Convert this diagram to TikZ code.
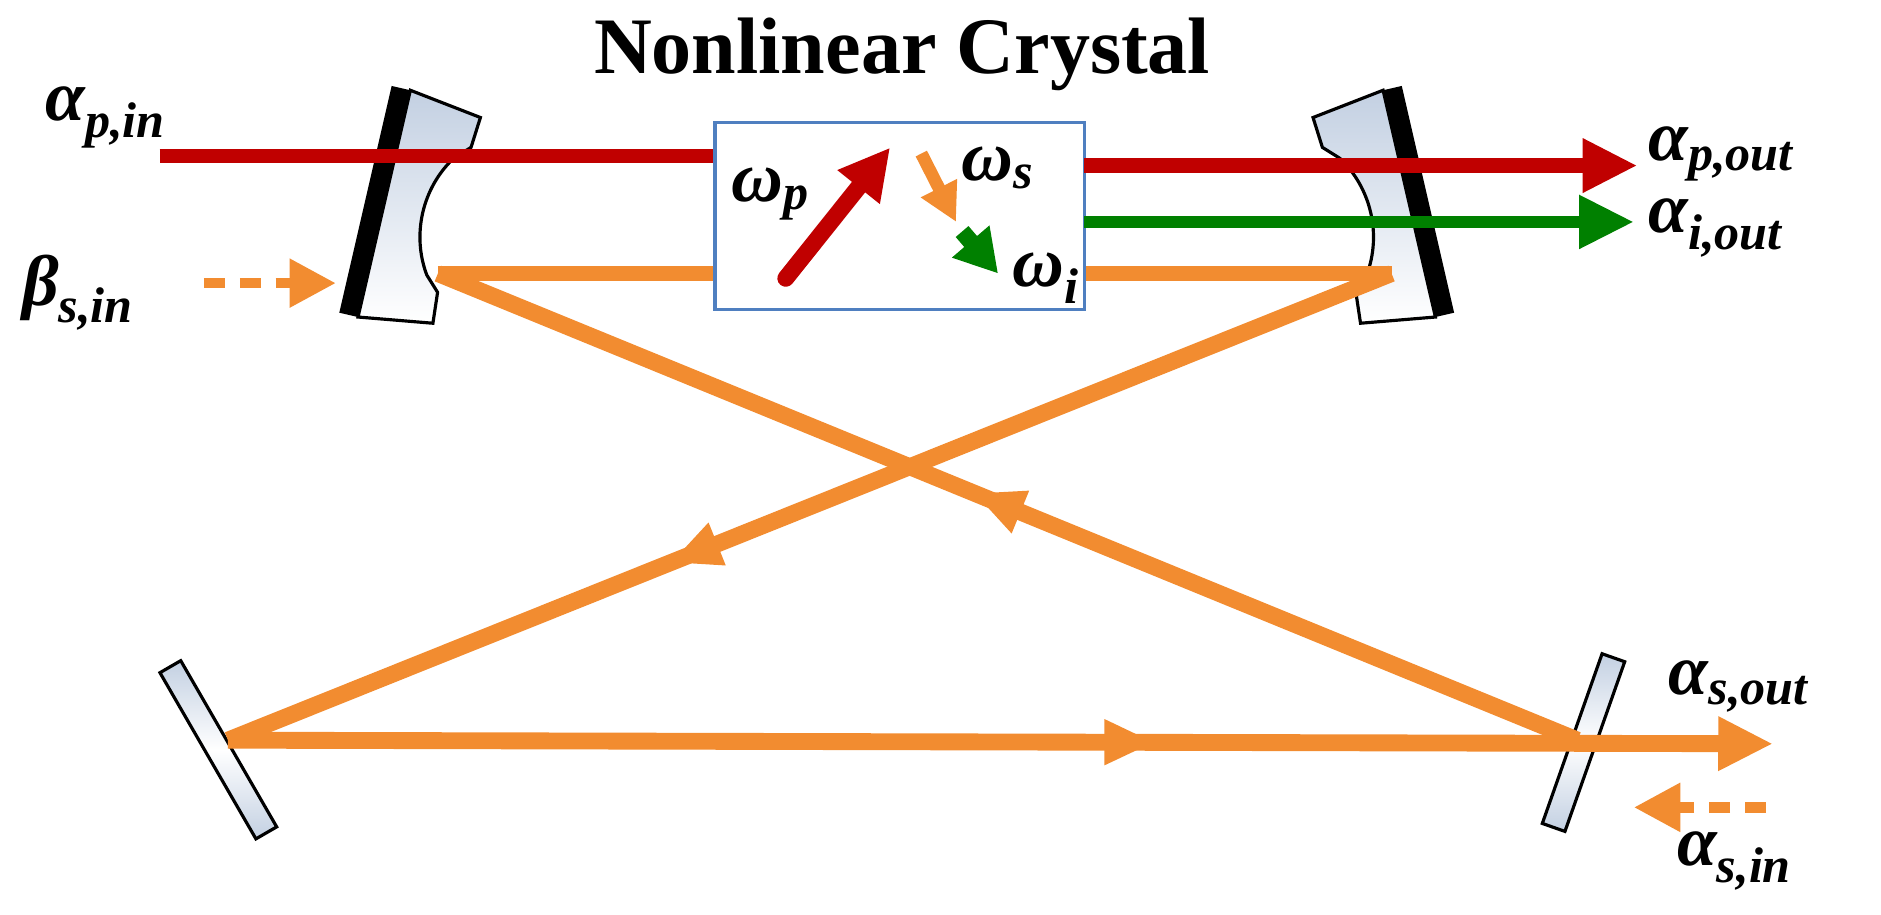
\documentclass[tikz,border=0pt]{standalone}
\usepackage{fontspec}
\setmainfont{Liberation Serif}
\usetikzlibrary{arrows.meta,decorations.markings}
\definecolor{pumpred}{HTML}{C00000}
\definecolor{sigor}{HTML}{F28C30}
\definecolor{idgreen}{HTML}{008000}
\definecolor{boxblue}{HTML}{4F7FC0}
\definecolor{mirr}{HTML}{C3D0E2}
\tikzset{
 beam/.style={line width=8pt},
 tip/.style={-{Triangle[length=26pt,width=24pt]}},
 midarrow/.style={postaction={decorate},decoration={markings,mark=at position #1 with {\arrow{Triangle[length=24pt,width=20pt]}}}},
 lbl/.style={font=\fontsize{34}{34}\selectfont\bfseries\itshape},
 mirror/.style={draw=black,line width=1.5pt,left color=mirr,right color=white,shading angle=0},
 flat/.style={draw=black,line width=1.5pt,shade,top color=mirr,bottom color=mirr,middle color=white,minimum height=0.4cm,inner sep=0pt},
}
\begin{document}
\begin{tikzpicture}[x=0.02cm,y=-0.02cm]
\useasboundingbox (0,0) rectangle (1568,762);
% coordinates
\coordinate (pin) at (133,130);
\coordinate (mL) at (365,228);
\coordinate (mR) at (1160,228);
\coordinate (bL) at (190,617);
\coordinate (bR) at (1315,617);
\coordinate (sout) at (1478,620);
% mirrors top
\begin{scope}[shift={(330,172)},rotate=-13]
 \fill[black] (-26,-97) rectangle (-10,97);
 \draw[mirror] (-10,-97) -- (52,-88) -- (50,-62) -- (38,-50) .. controls (18,-20) and (18,20) .. (38,50) -- (50,62) -- (52,88) -- (-10,97) -- cycle;
\end{scope}
\begin{scope}[shift={(1165,172)},rotate=13]
 \fill[black] (26,-97) rectangle (10,97);
 \draw[mirror] (10,-97) -- (-52,-88) -- (-50,-62) -- (-38,-50) .. controls (-18,-20) and (-18,20) .. (-38,50) -- (-50,62) -- (-52,88) -- (10,97) -- cycle;
\end{scope}
% bottom mirrors
\node[flat,minimum width=3.2cm,rotate=-60] (ml) at (182,625) {};
\node[flat,minimum width=3.0cm,rotate=70.6] (mr) at (1320,619) {};
% beams
\draw[beam,sigor,line width=7pt] (mL) -- (mR);
\draw[beam,sigor,midarrow=0.62] (mR) -- (bL);
\draw[beam,sigor,midarrow=0.53] (bR) -- (mL);
\draw[beam,sigor,midarrow=0.6,tip] (bL) -- (sout);
\draw[beam,pumpred,line width=7pt] (pin) -- (600,130);
% crystal
\node[draw=boxblue,line width=1.5pt,fill=white,minimum width=6.16cm,minimum height=3.12cm,inner sep=0pt] (cr) at (750,180) {};
\draw[beam,pumpred,line width=7pt,tip] (904,138) coordinate (po) -- (1365,138) coordinate (poe);
\draw[beam,idgreen,line width=6pt,tip] (904,185) -- (1362,185) coordinate (ioe);
\draw[pumpred,line width=8pt,line cap=round,-{Triangle[length=24pt,width=24pt]}] (655,232) coordinate (a1) -- (742,123) coordinate (a2);
\draw[sigor,line width=6pt,-{Triangle[length=18pt,width=18pt]}] (768,128) coordinate (b1) -- (797,185) coordinate (b2);
\draw[idgreen,line width=8pt,-{Triangle[length=20pt,width=22pt]}] (802,193) coordinate (c1) -- (832,228) coordinate (c2);
% dashed inputs
\draw[sigor,line width=5pt,dash pattern=on 10pt off 7pt,-{Triangle[length=22pt,width=22pt]}] (170,236) coordinate (bs) -- (280,236) coordinate (bse);
\draw[sigor,line width=5pt,dash pattern=on 10pt off 7pt,-{Triangle[length=22pt,width=22pt]}] (1472,673) coordinate (as) -- (1362,673) coordinate (ase);
% labels
\node[font=\fontsize{38}{38}\selectfont\bfseries] (title) at (752,45) {Nonlinear Crystal};
\node[lbl] at (88,98) {α\textsubscript{p,in}};
\node[lbl] at (65,244) {β\textsubscript{s,in}};
\node[lbl,anchor=west] at (1368,128) {α\textsubscript{p,out}};
\node[lbl,anchor=west] at (1368,190) {α\textsubscript{i,out}};
\node[lbl,anchor=west] at (1385,572) {α\textsubscript{s,out}};
\node[lbl,anchor=west] at (1392,718) {α\textsubscript{s,in}};
\node[lbl] at (642,162) {ω\textsubscript{p}};
\node[lbl] at (832,140) {ω\textsubscript{s}};
\node[lbl] at (872,232) {ω\textsubscript{i}};
\end{tikzpicture}
\end{document}
